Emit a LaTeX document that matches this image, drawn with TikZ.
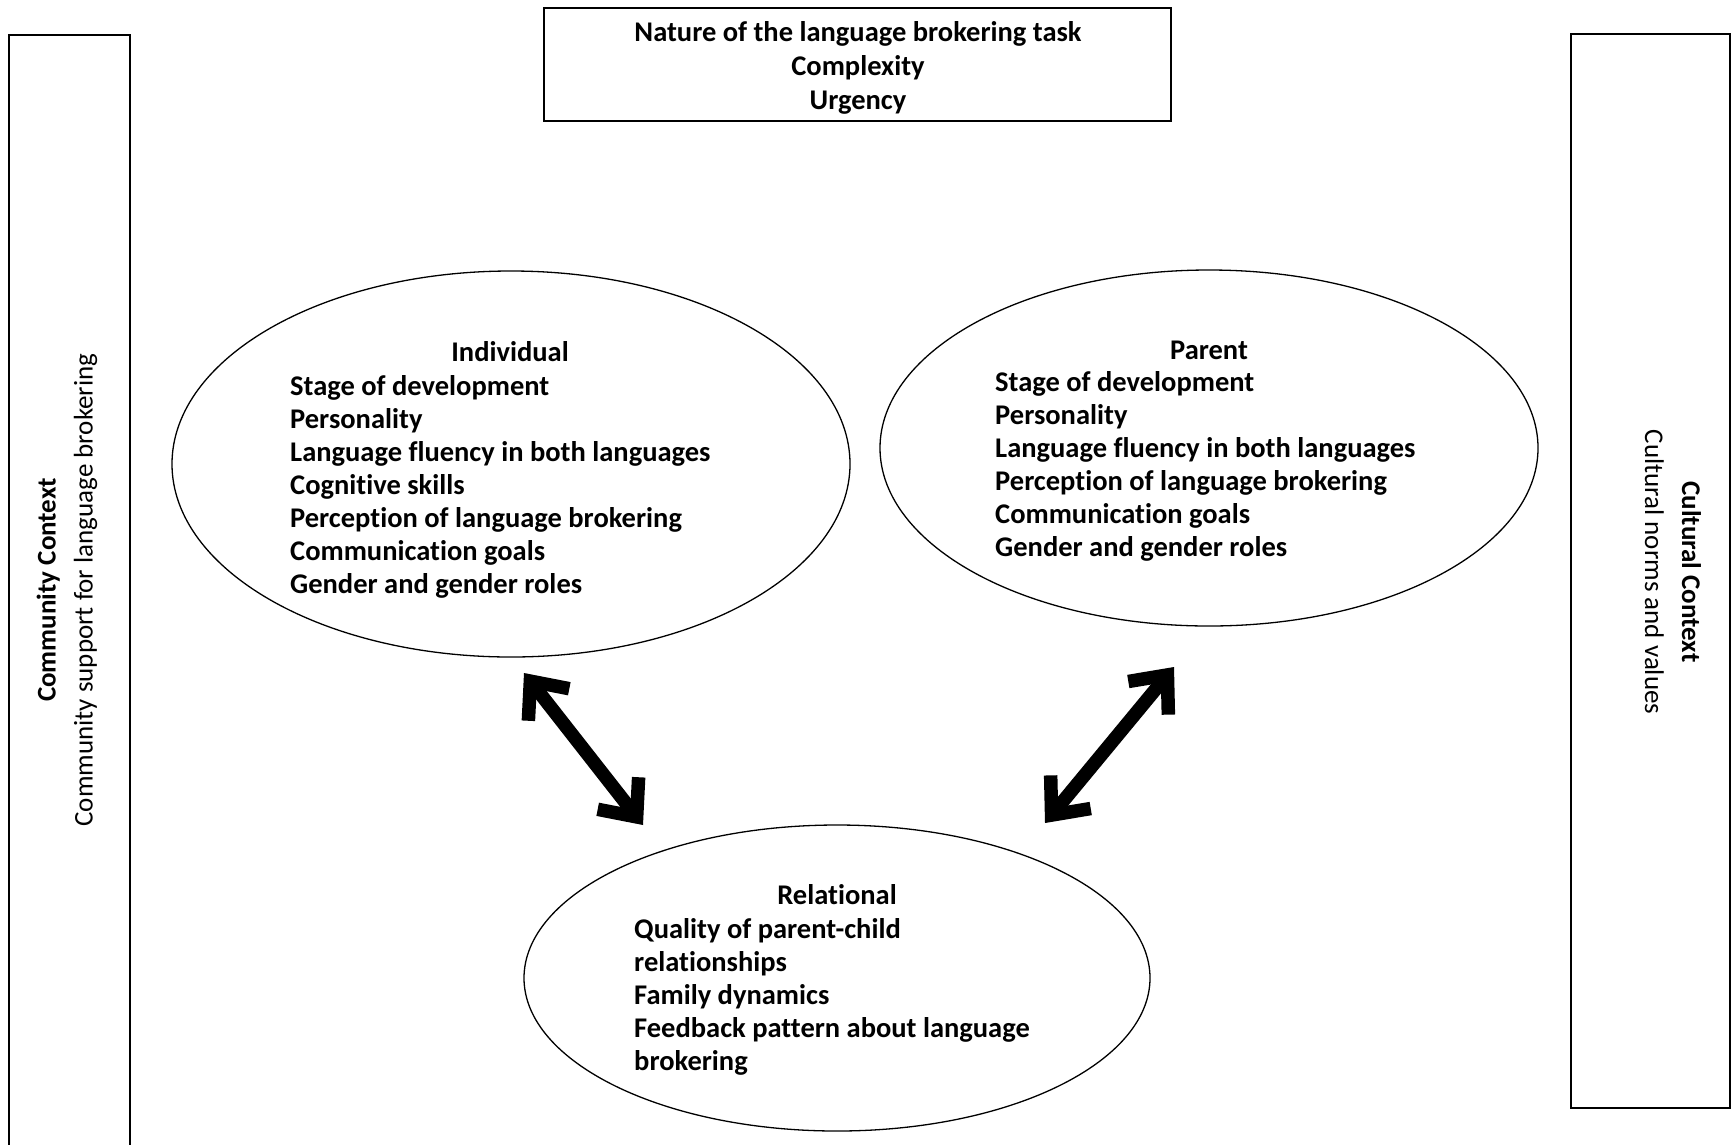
\documentclass[tikz,border=0pt]{standalone}
\usepackage{fontspec}
\setmainfont{Carlito}[Ligatures=NoCommon]
\usetikzlibrary{shapes.geometric,arrows.meta}
\begin{document}
\begin{tikzpicture}[x=1pt,y=-1pt,
  box/.style={draw, line width=1.6pt, inner sep=0pt},
  oval/.style={draw, ellipse, line width=1.3pt, inner sep=0pt},
  bftxt/.style={font=\fontsize{28.5}{33}\selectfont\bfseries, align=center, inner sep=0pt},
  toptxt/.style={font=\fontsize{28.5}{34}\selectfont\bfseries, align=center, inner sep=0pt},
  rottxt/.style={font=\fontsize{27}{37}\selectfont, align=center},
  biarrow/.style={line width=13.5pt,
    {Straight Barb[length=30pt,width=52pt]}-{Straight Barb[length=30pt,width=52pt]}}]
\useasboundingbox (0,0) rectangle (1736,1144);

% side boxes
\node[box, minimum width=121pt, minimum height=1160pt, anchor=north] (commbox) at (69.5,34) {};
\node[box, minimum width=159pt, minimum height=1074pt] (cultbox) at (1650.5,571) {};
\node[rottxt, rotate=90] (comm) at (67,590) {\textbf{Community Context}\\Community support for language brokering};
\node[rottxt, rotate=-90] (cult) at (1673,572) {\textbf{Cultural Context}\\Cultural norms and values};

% top box
\node[box, minimum width=627pt, minimum height=113pt] (task) at (857.5,64.5) {};
\node[toptxt] (tasktxt) at (858,67.5)
  {Nature of the language brokering task\\Complexity\\Urgency};

% ellipses
\node[oval, minimum width=678pt, minimum height=386pt] (ind) at (511,464) {};
\node[oval, minimum width=658pt, minimum height=356pt] (par) at (1209,448) {};
\node[oval, minimum width=626pt, minimum height=306pt] (rel) at (837,978) {};

% ellipse texts
\node[bftxt, anchor=base] (indh) at (510,361) {Individual};
\node[bftxt, anchor=base west] (indl) at (290,395)
  {\begin{tabular}[t]{@{}l@{}}Stage of development\\Personality\\Language fluency in both languages\\
   Cognitive skills\\Perception of language brokering\\Communication goals\\
   Gender and gender roles\end{tabular}};
\node[bftxt, anchor=base] (parh) at (1209,359) {Parent};
\node[bftxt, anchor=base west] (parl) at (995,391)
  {\begin{tabular}[t]{@{}l@{}}Stage of development\\Personality\\Language fluency in both languages\\
   Perception of language brokering\\Communication goals\\
   Gender and gender roles\end{tabular}};
\node[bftxt, anchor=base] (relh) at (837,904) {Relational};
\node[bftxt, anchor=base west] (rell) at (634,938)
  {\begin{tabular}[t]{@{}l@{}}Quality of parent-child\\relationships\\Family dynamics\\
   Feedback pattern about language\\brokering\end{tabular}};

% arrows
\coordinate (a1) at (524,673);
\coordinate (a2) at (643,825);
\coordinate (b1) at (1174,667);
\coordinate (b2) at (1045,823);
\draw[biarrow] (a1) -- (a2);
\draw[biarrow] (b1) -- (b2);
\end{tikzpicture}
\end{document}
